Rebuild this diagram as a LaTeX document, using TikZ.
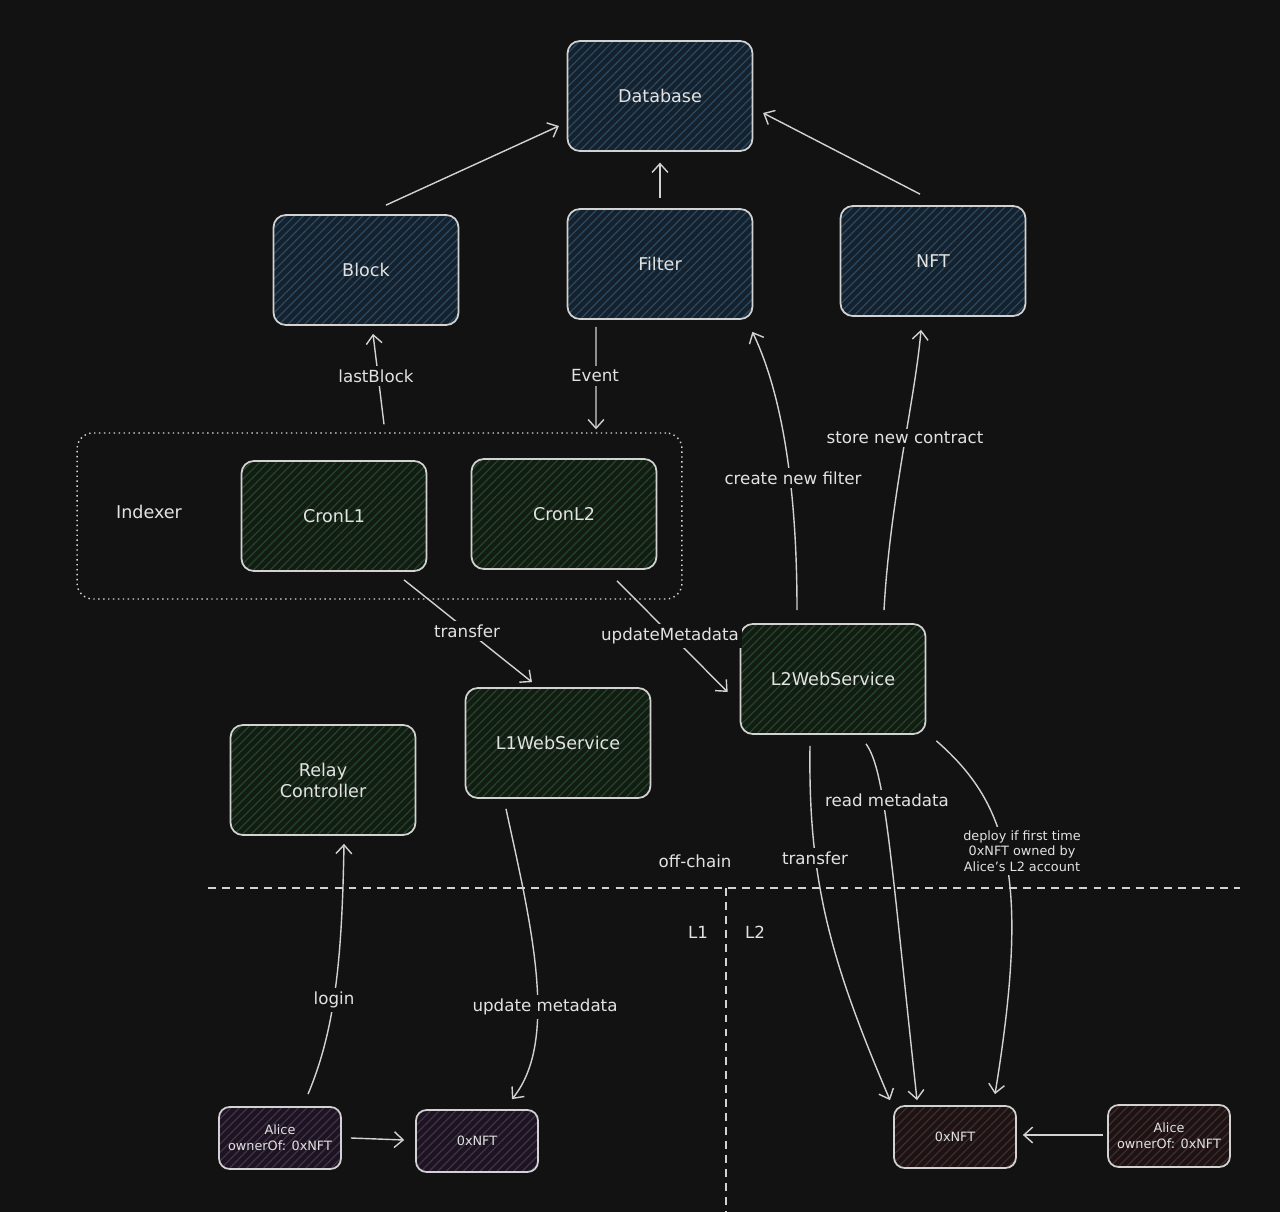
\documentclass[tikz,border=0pt]{standalone}
\usepackage{fontspec}
\setmainfont{DejaVu Sans}
\usetikzlibrary{arrows.meta,patterns.meta}
\definecolor{bg}{HTML}{121212}
\definecolor{edge}{HTML}{D2D2D2}
\definecolor{txt}{HTML}{E2E2E2}
\definecolor{bluebase}{HTML}{15212C}
\definecolor{bluehatch}{HTML}{2A4A64}
\definecolor{greenbase}{HTML}{121C13}
\definecolor{greenhatch}{HTML}{24452A}
\definecolor{purpbase}{HTML}{1C1520}
\definecolor{purphatch}{HTML}{433050}
\definecolor{redbase}{HTML}{1C1414}
\definecolor{redhatch}{HTML}{452C2C}

\begin{document}
\begin{tikzpicture}
  [x=0.02cm,y=-0.02cm,
   every node/.style={text=txt,font=\fontsize{10}{12}\selectfont},
   box/.style={draw=edge,line width=1pt,rounded corners=7pt,
     minimum width=3.7cm,minimum height=2.2cm,align=center},
   small/.style={box,rounded corners=6pt,minimum width=2.44cm,minimum height=1.24cm,
     font=\fontsize{7.3}{9}\selectfont},
   hatch/.style={pattern={Lines[angle=45,distance=3.4pt,line width=0.7pt]}},
   blu/.style={box,preaction={fill=bluebase},hatch,pattern color=bluehatch},
   grn/.style={box,preaction={fill=greenbase},hatch,pattern color=greenhatch},
   purp/.style={small,preaction={fill=purpbase},hatch,pattern color=purphatch},
   rd/.style={small,preaction={fill=redbase},hatch,pattern color=redhatch},
   lbl/.style={fill=bg,inner sep=2pt,align=center,font=\fontsize{9.5}{11}\selectfont},
   arr/.style={draw=edge,line width=0.8pt,-{Straight Barb[length=5pt,width=9pt]}},
   sep/.style={draw=edge,line width=0.8pt,dash pattern=on 4.5pt off 3.5pt}]

  \fill[bg] (0,0) rectangle (1280,1212);
  \useasboundingbox (0,0) rectangle (1280,1212);

  % storage
  \node[blu] (db) at (660,96) {Database};
  \node[blu] (blk) at (366,270) {Block};
  \node[blu] (flt) at (660,264) {Filter};
  \node[blu] (nft) at (933,261) {NFT};

  % indexer group
  \node[draw=edge!80,line width=0.8pt,dotted,rounded corners=9pt,
    minimum width=12.1cm,minimum height=3.32cm] (idx) at (379.5,516) {};
  \node (idxl) at (149,512) {Indexer};
  \node[grn] (cl1) at (334,516) {CronL1};
  \node[grn] (cl2) at (564,514) {CronL2};

  % services
  \node[grn] (l1ws) at (558,743) {L1WebService};
  \node[grn] (relay) at (323,780) {Relay\\Controller};
  \node[grn] (l2ws) at (833,679) {L2WebService};

  % chain side
  \node[purp] (al1) at (280,1138) {Alice\\ownerOf: 0xNFT};
  \node[purp] (nft1) at (477,1141) {0xNFT};
  \node[rd] (nft2) at (955,1137) {0xNFT};
  \node[rd] (al2) at (1169,1136) {Alice\\ownerOf: 0xNFT};

  % boundaries
  \draw[sep] (208,888) -- (1240,888);
  \draw[sep] (726,888) -- (726,1212);
  \node (offc) at (695,861) {\fontsize{9.5}{11}\selectfont off-chain};
  \node (lone) at (698,932) {\fontsize{9.5}{11}\selectfont L1};
  \node (ltwo) at (755,932) {\fontsize{9.5}{11}\selectfont L2};

  % connectors
  \draw[arr] ([shift={(20,-9)}]blk.north) -- ([shift={(-8,30)}]db.west);
  \draw[arr] ([shift={(0,-10)}]flt.north) -- ([shift={(0,11)}]db.south);
  \draw[arr] ([shift={(-13,-11)}]nft.north) -- ([shift={(10,17)}]db.east);
  \draw[arr] ([shift={(4.5,-8)}]idx.north) -- ([shift={(7,8)}]blk.south);
  \draw[arr] ([shift={(-64,7)}]flt.south) -- ([shift={(216.5,-3)}]idx.north);
  \draw[arr] ([shift={(70,8)}]cl1.south) -- ([shift={(-26,-5)}]l1ws.north);
  \draw[arr] ([shift={(53,11)}]cl2.south) -- ([shift={(-12,13)}]l2ws.west);
  \draw[arr] ([shift={(-36,-13)}]l2ws.north) .. controls (797,500) and (785,400)
    .. ([shift={(-1,12)}]flt.south east);
  \draw[arr] ([shift={(51,-13)}]l2ws.north) .. controls (890,500) and (915,400)
    .. ([shift={(-12,13)}]nft.south);
  \draw[arr] ([shift={(-23,11)}]l2ws.south) .. controls (808,880) and (830,960)
    .. ([shift={(-65,-5)}]nft2.north);
  \draw[arr] ([shift={(33,9)}]l2ws.south) .. controls (885,770) and (890,850)
    .. ([shift={(-38,-5)}]nft2.north);
  \draw[arr] ([shift={(10,6)}]l2ws.south east) .. controls (1010,805) and (1030,880)
    .. ([shift={(40,-11)}]nft2.north);
  \draw[arr] ([shift={(-52,10)}]l1ws.south) .. controls (530,920) and (560,1040)
    .. ([shift={(35,-10)}]nft1.north);
  \draw[arr] ([shift={(28,-12)}]al1.north) .. controls (335,1030) and (342,960)
    .. ([shift={(21,8)}]relay.south);
  \draw[arr] ([shift={(9,0)}]al1.east) -- ([shift={(-11,-1)}]nft1.west);
  \draw[arr] ([shift={(-4,-1)}]al2.west) -- ([shift={(6,-2)}]nft2.east);

  % connector labels
  \node[lbl] (t1) at (376,376) {lastBlock};
  \node[lbl] (t2) at (595,376) {Event};
  \node[lbl] (t3) at (467,631) {transfer};
  \node[lbl] (t4) at (670,636) {updateMetadata};
  \node[lbl] (t5) at (793,478) {create new filter};
  \node[lbl] (t6) at (905,438) {store new contract};
  \node[lbl] (t7) at (815,858) {transfer};
  \node[lbl] (t8) at (887,800) {read metadata};
  \node[lbl,font=\fontsize{7.3}{8.8}\selectfont] (t9) at (1022,851)
    {deploy if first time\\0xNFT owned by\\Alice's L2 account};
  \node[lbl] (t10) at (545,1007) {update metadata};
  \node[lbl] (t11) at (334,1000) {login};

\end{tikzpicture}
\end{document}
